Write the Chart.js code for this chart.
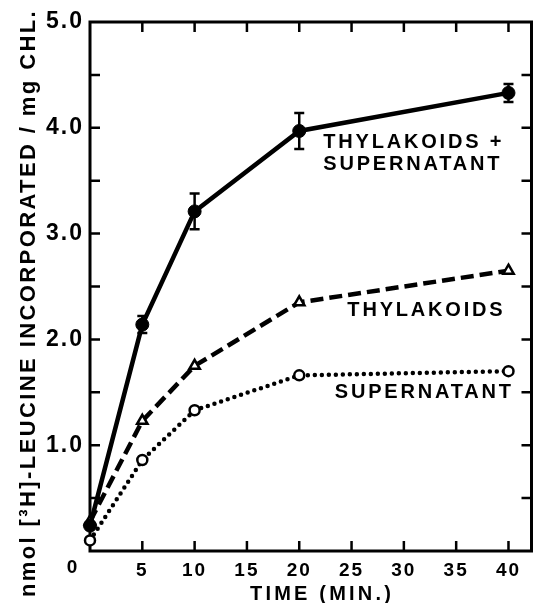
<!DOCTYPE html>
<html>
<head>
<meta charset="utf-8">
<script src="https://cdn.jsdelivr.net/npm/chart.js@4"></script>
<style>
  body { margin: 0; background: #fff; }
  canvas { display: block; }
</style>
</head>
<body>
<canvas id="grafico" width="540" height="603"></canvas>
<script>
// dados
const tempos = [0, 5, 10, 20, 40];
const tilacoidesSobrenadante = [0.24, 2.14, 3.21, 3.97, 4.33];
const erroTilSob = [0, 0.08, 0.17, 0.17, 0.085];
const tilacoides = [0.28, 1.23, 1.75, 2.35, 2.65];
const sobrenadante = [0.10, 0.86, 1.33, 1.66, 1.70];

const ticksX = [0, 5, 10, 15, 20, 25, 30, 35, 40];
const ticksY = [0.5, 1.0, 1.5, 2.0, 2.5, 3.0, 3.5, 4.0, 4.5];
const rotulosY = ['1.0', '2.0', '3.0', '4.0', '5.0'];

// rótulos das curvas: [texto, tempo, valor]
const rotulosCurvas = [
  ['THYLAKOIDS +', 22.3, 3.86],
  ['SUPERNATANT', 22.3, 3.65],
  ['THYLAKOIDS', 24.6, 2.27],
  ['SUPERNATANT', 23.4, 1.50]
];

const tituloX = 'TIME (MIN.)';
const tituloY = 'nmol [³H]-LEUCINE INCORPORATED / mg CHL.';

const FONTE = '"Liberation Sans", Arial, sans-serif';
Chart.defaults.font.family = FONTE;
Chart.defaults.font.weight = 'bold';
Chart.defaults.color = '#000';

function pontos(valores) {
  return tempos.map((t, i) => ({ x: t, y: valores[i] }));
}

const moldura = {
  id: 'moldura',
  beforeDraw(chart) {
    chart.ctx.letterSpacing = '2px';
  },
  beforeDatasetsDraw(chart) {
    const ctx = chart.ctx;
    const a = chart.chartArea;
    const x = chart.scales.x;
    const y = chart.scales.y;
    ctx.save();
    ctx.strokeStyle = '#000';
    ctx.lineWidth = 3;
    ctx.strokeRect(a.left, a.top, a.right - a.left, a.bottom - a.top);
    ctx.lineWidth = 2.5;
    ctx.beginPath();
    ticksX.forEach(v => {
      if (v === 0) return;
      const px = x.getPixelForValue(v);
      ctx.moveTo(px, a.bottom); ctx.lineTo(px, a.bottom - 10);
      ctx.moveTo(px, a.top); ctx.lineTo(px, a.top + 10);
    });
    ticksY.forEach(v => {
      const py = y.getPixelForValue(v);
      ctx.moveTo(a.left, py); ctx.lineTo(a.left + 10, py);
      ctx.moveTo(a.right, py); ctx.lineTo(a.right - 10, py);
    });
    ctx.stroke();
    ctx.restore();
  },
  afterDatasetsDraw(chart) {
    const ctx = chart.ctx;
    const x = chart.scales.x;
    const y = chart.scales.y;
    ctx.save();
    // barras de erro
    ctx.strokeStyle = '#000';
    ctx.lineWidth = 2.5;
    ctx.beginPath();
    tempos.forEach((t, i) => {
      const e = erroTilSob[i];
      if (!e) return;
      const px = x.getPixelForValue(t);
      const p1 = y.getPixelForValue(tilacoidesSobrenadante[i] + e);
      const p2 = y.getPixelForValue(tilacoidesSobrenadante[i] - e);
      ctx.moveTo(px, p1); ctx.lineTo(px, p2);
      ctx.moveTo(px - 5, p1); ctx.lineTo(px + 5, p1);
      ctx.moveTo(px - 5, p2); ctx.lineTo(px + 5, p2);
    });
    ctx.stroke();

    ctx.fillStyle = '#000';
    ctx.letterSpacing = '2.8px';
    ctx.font = 'bold 20px ' + FONTE;
    ctx.textAlign = 'left';
    ctx.textBaseline = 'middle';
    rotulosCurvas.forEach(r => {
      ctx.fillText(r[0], x.getPixelForValue(r[1]), y.getPixelForValue(r[2]));
    });

    // "0" do eixo x fica deslocado para a esquerda
    ctx.font = 'bold 19px ' + FONTE;
    ctx.letterSpacing = '0px';
    ctx.textAlign = 'center';
    ctx.fillText('0', x.getPixelForValue(0) - 18, chart.chartArea.bottom + 17);

    // títulos
    ctx.letterSpacing = '3.2px';
    ctx.font = 'bold 20px ' + FONTE;
    ctx.textBaseline = 'alphabetic';
    ctx.fillText(tituloX, 322, 600);

    ctx.letterSpacing = '2.4px';
    ctx.font = 'bold 22px ' + FONTE;
    ctx.translate(35, 303);
    ctx.rotate(-Math.PI / 2);
    ctx.fillText(tituloY, 0, 0);
    ctx.restore();
  }
};

new Chart(document.getElementById('grafico'), {
  type: 'line',
  data: {
    datasets: [
      {
        label: 'THYLAKOIDS + SUPERNATANT',
        data: pontos(tilacoidesSobrenadante),
        borderColor: '#000',
        backgroundColor: '#000',
        borderWidth: 4.5,
        pointStyle: 'circle',
        pointRadius: 6.5,
        pointBorderWidth: 1,
        clip: false
      },
      {
        label: 'THYLAKOIDS',
        data: pontos(tilacoides),
        borderColor: '#000',
        backgroundColor: '#fff',
        borderWidth: 4.5,
        borderDash: [13, 6],
        pointStyle: 'triangle',
        pointRadius: 6,
        pointBorderWidth: 2.5,
        clip: false
      },
      {
        label: 'SUPERNATANT',
        data: pontos(sobrenadante),
        borderColor: '#000',
        backgroundColor: '#fff',
        borderWidth: 4.5,
        borderDash: [0, 7],
        borderCapStyle: 'round',
        pointStyle: 'circle',
        pointRadius: 5,
        pointBorderWidth: 2.5,
        clip: false
      }
    ]
  },
  options: {
    responsive: false,
    animation: false,
    events: [],
    layout: { padding: { top: 22, right: 5, left: 0, bottom: 0 } },
    plugins: { legend: { display: false }, tooltip: { enabled: false } },
    scales: {
      x: {
        type: 'linear',
        min: 0,
        max: 42.2,
        afterFit: s => { s.height = 52; },
        afterBuildTicks: s => { s.ticks = ticksX.map(v => ({ value: v })); },
        grid: { display: false, drawTicks: false },
        border: { display: false },
        ticks: {
          padding: 8,
          font: { size: 19, weight: 'bold' },
          callback: v => (v === 0 ? '' : String(v))
        }
      },
      y: {
        min: 0,
        max: 5,
        afterFit: s => { s.width = 90; },
        afterBuildTicks: s => { s.ticks = rotulosY.map(v => ({ value: parseFloat(v) })); },
        grid: { display: false, drawTicks: false },
        border: { display: false },
        ticks: {
          padding: 6,
          font: { size: 23, weight: 'bold' },
          callback: v => v.toFixed(1)
        }
      }
    }
  },
  plugins: [moldura]
});
</script>
</body>
</html>
